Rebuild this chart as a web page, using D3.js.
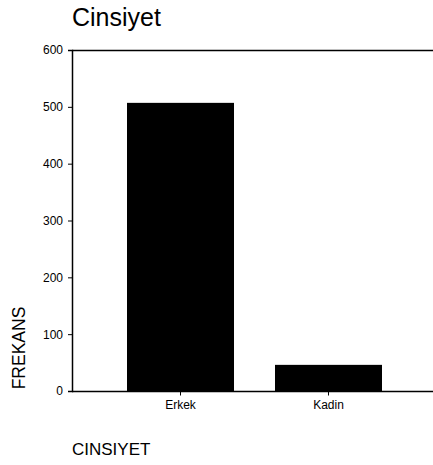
<!DOCTYPE html>
<html>
<head>
<meta charset="utf-8">
<script src="https://cdn.jsdelivr.net/npm/d3@7"></script>
<style>
  body { margin: 0; background: #fff; }
  text { font-family: "Liberation Sans", Arial, sans-serif; fill: #000; }
</style>
</head>
<body>
<div id="chart"></div>
<script>
// data
var categories = ["Erkek", "Kadin"];
var counts = [507, 46];
var yTicks = [0, 100, 200, 300, 400, 500, 600];

var width = 433, height = 465;
var plot = {left: 72, right: 433, top: 50, bottom: 391};

var svg = d3.select("#chart").append("svg")
    .attr("width", width)
    .attr("height", height);

var x = d3.scaleBand()
    .domain(categories)
    .range([127, 382])
    .paddingInner(0.277)
    .paddingOuter(0);

var y = d3.scaleLinear()
    .domain([0, 600])
    .range([plot.bottom, plot.top]);

// bars
svg.append("g").selectAll("rect")
    .data(categories)
    .enter().append("rect")
    .attr("x", function(d) { return x(d); })
    .attr("y", function(d, i) { return y(counts[i]); })
    .attr("width", x.bandwidth())
    .attr("height", function(d, i) { return y(0) - y(counts[i]); })
    .attr("fill", "#000");

// frame lines (top + bottom reach the right edge)
svg.append("line")
    .attr("x1", plot.left).attr("x2", plot.right)
    .attr("y1", plot.top + 0.5).attr("y2", plot.top + 0.5)
    .attr("stroke", "#000").attr("stroke-width", 1.5);
svg.append("line")
    .attr("x1", plot.left).attr("x2", plot.right)
    .attr("y1", plot.bottom + 0.5).attr("y2", plot.bottom + 0.5)
    .attr("stroke", "#000").attr("stroke-width", 1.5);

// y axis
var yAxis = svg.append("g")
    .attr("transform", "translate(" + plot.left + ",0)")
    .call(d3.axisLeft(y).tickValues(yTicks).tickSize(4).tickPadding(5));
yAxis.select(".domain").attr("stroke-width", 1.5);
yAxis.selectAll("text").style("font-size", "12px").attr("font-family", "Liberation Sans, Arial, sans-serif");

// x axis ticks + labels
var xAxis = svg.append("g")
    .attr("transform", "translate(0," + (plot.bottom + 0.5) + ")")
    .call(d3.axisBottom(x).tickSize(4).tickPadding(5));
xAxis.select(".domain").remove();
xAxis.selectAll("text").style("font-size", "12px").attr("font-family", "Liberation Sans, Arial, sans-serif");

// titles
svg.append("text")
    .attr("x", 72).attr("y", 26)
    .style("font-size", "25px")
    .text("Cinsiyet");

svg.append("text")
    .attr("transform", "translate(25,348) rotate(-90)")
    .attr("text-anchor", "middle")
    .style("font-size", "17.5px")
    .text("FREKANS");

svg.append("text")
    .attr("x", 72).attr("y", 455)
    .style("font-size", "17px")
    .text("CINSIYET");
</script>
</body>
</html>
